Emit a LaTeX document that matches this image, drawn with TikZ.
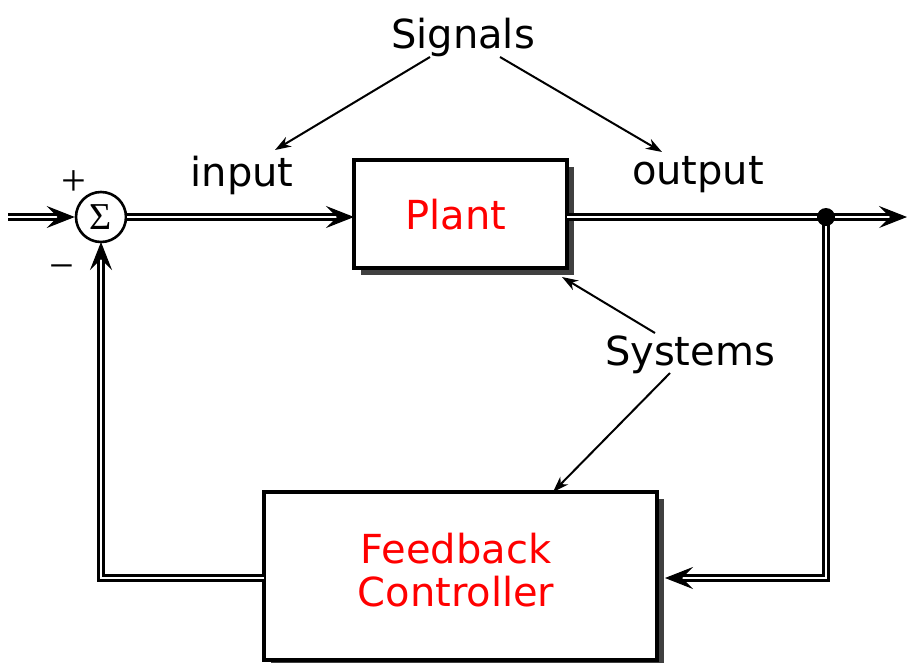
\documentclass[tikz,border=0pt]{standalone}
\usepackage{fontspec}
\setmainfont{DejaVu Sans}
\newfontfamily\symserif{Liberation Serif}
\usetikzlibrary{arrows.meta,shadows}
\begin{document}
\begin{tikzpicture}[x=1pt,y=-1pt,
  txt/.style={font=\fontsize{40}{43}\selectfont, inner sep=0pt},
  redtxt/.style={txt, text=red, align=center},
  block/.style={draw, line width=3.2pt, fill=white,
    drop shadow={shadow xshift=7pt, shadow yshift=-7pt, fill=black!75, opacity=1}},
  dbl/.style={double, double distance=2.6pt, line width=2.9pt},
  dblarr/.style={dbl, shorten >=14pt},
  bigtip/.style={-{Stealth[length=28pt,width=22pt,inset=11pt]}, line width=1pt},
  thinarr/.style={line width=2pt, -{Stealth[length=16pt,width=11pt,inset=5pt]}},
  sgn/.style={inner sep=0pt, font=\symserif\fontsize{44}{44}\selectfont}]
\useasboundingbox (0,0) rectangle (907,662);
% blocks
\node[block, minimum width=213pt, minimum height=108pt] (plant) at (460.5,214) {};
\node[redtxt] (plantlbl) at (456,215) {Plant};
\node[block, minimum width=393pt, minimum height=168pt] (fb) at (460.5,576) {};
\node[redtxt] (fblbl) at (456,570) {Feedback\\Controller};
\node[draw, circle, line width=2.6pt, minimum size=50pt, inner sep=0pt, fill=white] (sum) at (101,217) {};
\node[inner sep=0pt, font=\symserif\fontsize{38}{38}\selectfont] (sigma) at (101,217) {Σ};
% coordinates
\coordinate (in) at (8,217);
\coordinate (pin) at (354,217);
\coordinate (pout) at (567,217);
\coordinate (out) at (907,217);
\coordinate (fbin) at (665,578);
\coordinate (fbout) at (264,578);
\coordinate (sumin) at (101,242);
% signs
\node[sgn] (plus) at (74,183) {+};
\node[sgn] (minus) at (62,273) {−};
% double connectors
\draw[dblarr] (in) -- (sum.west);
\draw[bigtip] ([xshift=-5pt]sum.west) -- (sum.west);
\draw[dblarr] (sum.east) -- (pin);
\draw[bigtip] ([xshift=-5pt]pin) -- (pin);
\draw[dbl] (pout) -- (826,217);
\draw[dblarr] (826,217) -- (out);
\draw[bigtip] ([xshift=-5pt]out) -- (out);
\draw[dblarr] (826,217) |- (fbin);
\draw[bigtip] ([xshift=5pt]fbin) -- (fbin);
\draw[dblarr] (fbout) -| (sumin);
\draw[bigtip] ([yshift=-5pt]sumin) -- (sumin);
\node[circle, fill=black, minimum size=18pt, inner sep=0pt] (dot) at (826,217) {};
% labels
\node[txt] (sig) at (463,37) {Signals};
\node[txt] (inp) at (242,175) {input};
\node[txt] (outp) at (698,175) {output};
\node[txt] (sys) at (690,355) {Systems};
\coordinate (s1) at (430,57);
\coordinate (s2) at (500,57);
\coordinate (y1) at (655,333);
\coordinate (y2) at (670,373);
\coordinate (t1) at (275,150);
\coordinate (t2) at (662,152);
\coordinate (t3) at (562,277);
\coordinate (t4) at (553,492);
\draw[thinarr] (s1) -- (t1);
\draw[thinarr] (s2) -- (t2);
\draw[thinarr] (y1) -- (t3);
\draw[thinarr] (y2) -- (t4);
\end{tikzpicture}
\end{document}
